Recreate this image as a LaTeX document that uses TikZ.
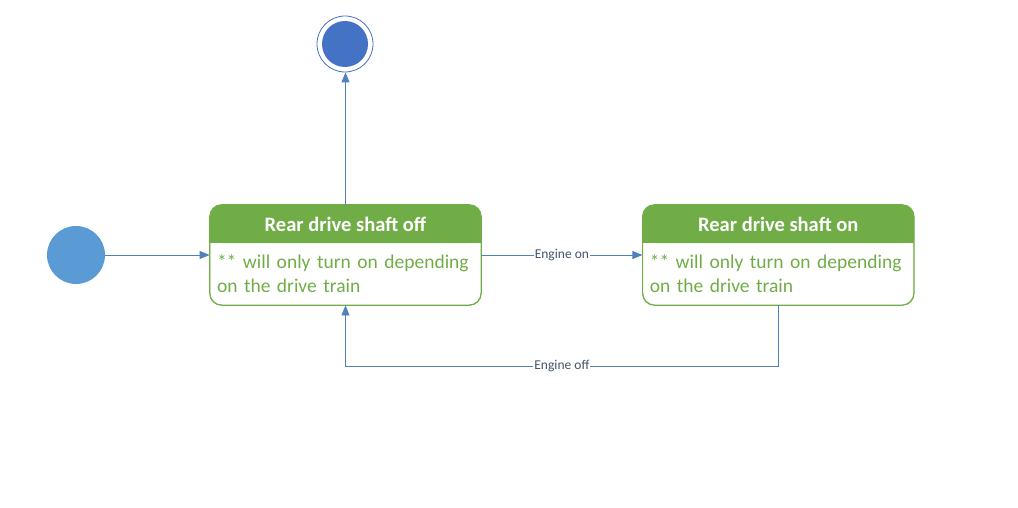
\documentclass[tikz,border=0pt]{standalone}
\usepackage{fontspec}
\setmainfont{Carlito}
\usetikzlibrary{positioning,arrows.meta}
\definecolor{statecolor}{RGB}{112,173,71}
\definecolor{linecolor}{RGB}{79,129,189}
\definecolor{startcolor}{RGB}{91,155,213}
\definecolor{endcolor}{RGB}{68,114,196}
\definecolor{labelcolor}{RGB}{68,84,106}

\begin{document}
\begin{tikzpicture}[%
    x=1pt, y=-1pt,              % pixel grid of the original
    >={Triangle[length=10pt,width=8pt]},
    node distance=161pt,        % gap between the two states
    every path/.style={line width=0.8pt},
    ]
\tikzset{
  state/.style={draw=statecolor, rounded corners=12pt, minimum width=271pt, minimum height=100pt, inner sep=0pt},
  head/.style={fill=statecolor, rounded corners=12pt, minimum width=271pt, minimum height=38pt, inner sep=0pt,
    text=white, font=\fontsize{20.5}{24}\selectfont\bfseries},
  body/.style={anchor=north west, text width=264pt, align=left, inner sep=0pt,
    text=statecolor, font=\fontsize{19.5}{24}\selectfont},
  init/.style={circle, fill=startcolor, minimum size=58pt, inner sep=0pt},
  final/.style={circle, draw=endcolor, fill=white, minimum size=56pt, inner sep=0pt},
  finalin/.style={circle, fill=endcolor, minimum size=46pt, inner sep=0pt},
  trans/.style={draw=linecolor, ->},
  lbl/.style={fill=white, inner sep=1pt, text=labelcolor, font=\fontsize{13.5}{16}\selectfont},
}
\useasboundingbox (0,0) rectangle (1018,508);

% states
\node [state] (off) at (345.5,255) {};
\node [state, right=of off] (on) {};
\node [init] (start) at (76,255) {};
\node [final] (end) at (345,44) {};
\node [finalin] (endin) at (end.center) {};

% headers, bottom corners squared off
\node [head, anchor=north] (offhead) at (off.north) {};
\fill [statecolor] (offhead.west) rectangle (offhead.south east);
\node [head, anchor=north, fill=none] at (off.north) {Rear drive shaft off};
\node [head, anchor=north] (onhead) at (on.north) {};
\fill [statecolor] (onhead.west) rectangle (onhead.south east);
\node [head, anchor=north, fill=none] at (on.north) {Rear drive shaft on};
\draw [statecolor, rounded corners=12pt] (off.north west) rectangle (off.south east);
\draw [statecolor, rounded corners=12pt] (on.north west) rectangle (on.south east);

\node [body] (offbody) at ([xshift=7pt,yshift=-11pt]offhead.south west)
  {** will only turn on depending on the drive train};
\node [body] (onbody) at ([xshift=7pt,yshift=-11pt]onhead.south west)
  {** will only turn on depending on the drive train};

% transitions
\draw [trans] (start.east) -- (off.west);
\draw [trans] (off.north) -- (off.north |- end.south);
\draw [trans] (off.east) -- node [lbl] {Engine on} (on.west);
\draw [trans] (on.south) -- ++(0,61) -| node [lbl, pos=0.25] {Engine off} (off.south);

\end{tikzpicture}
\end{document}
